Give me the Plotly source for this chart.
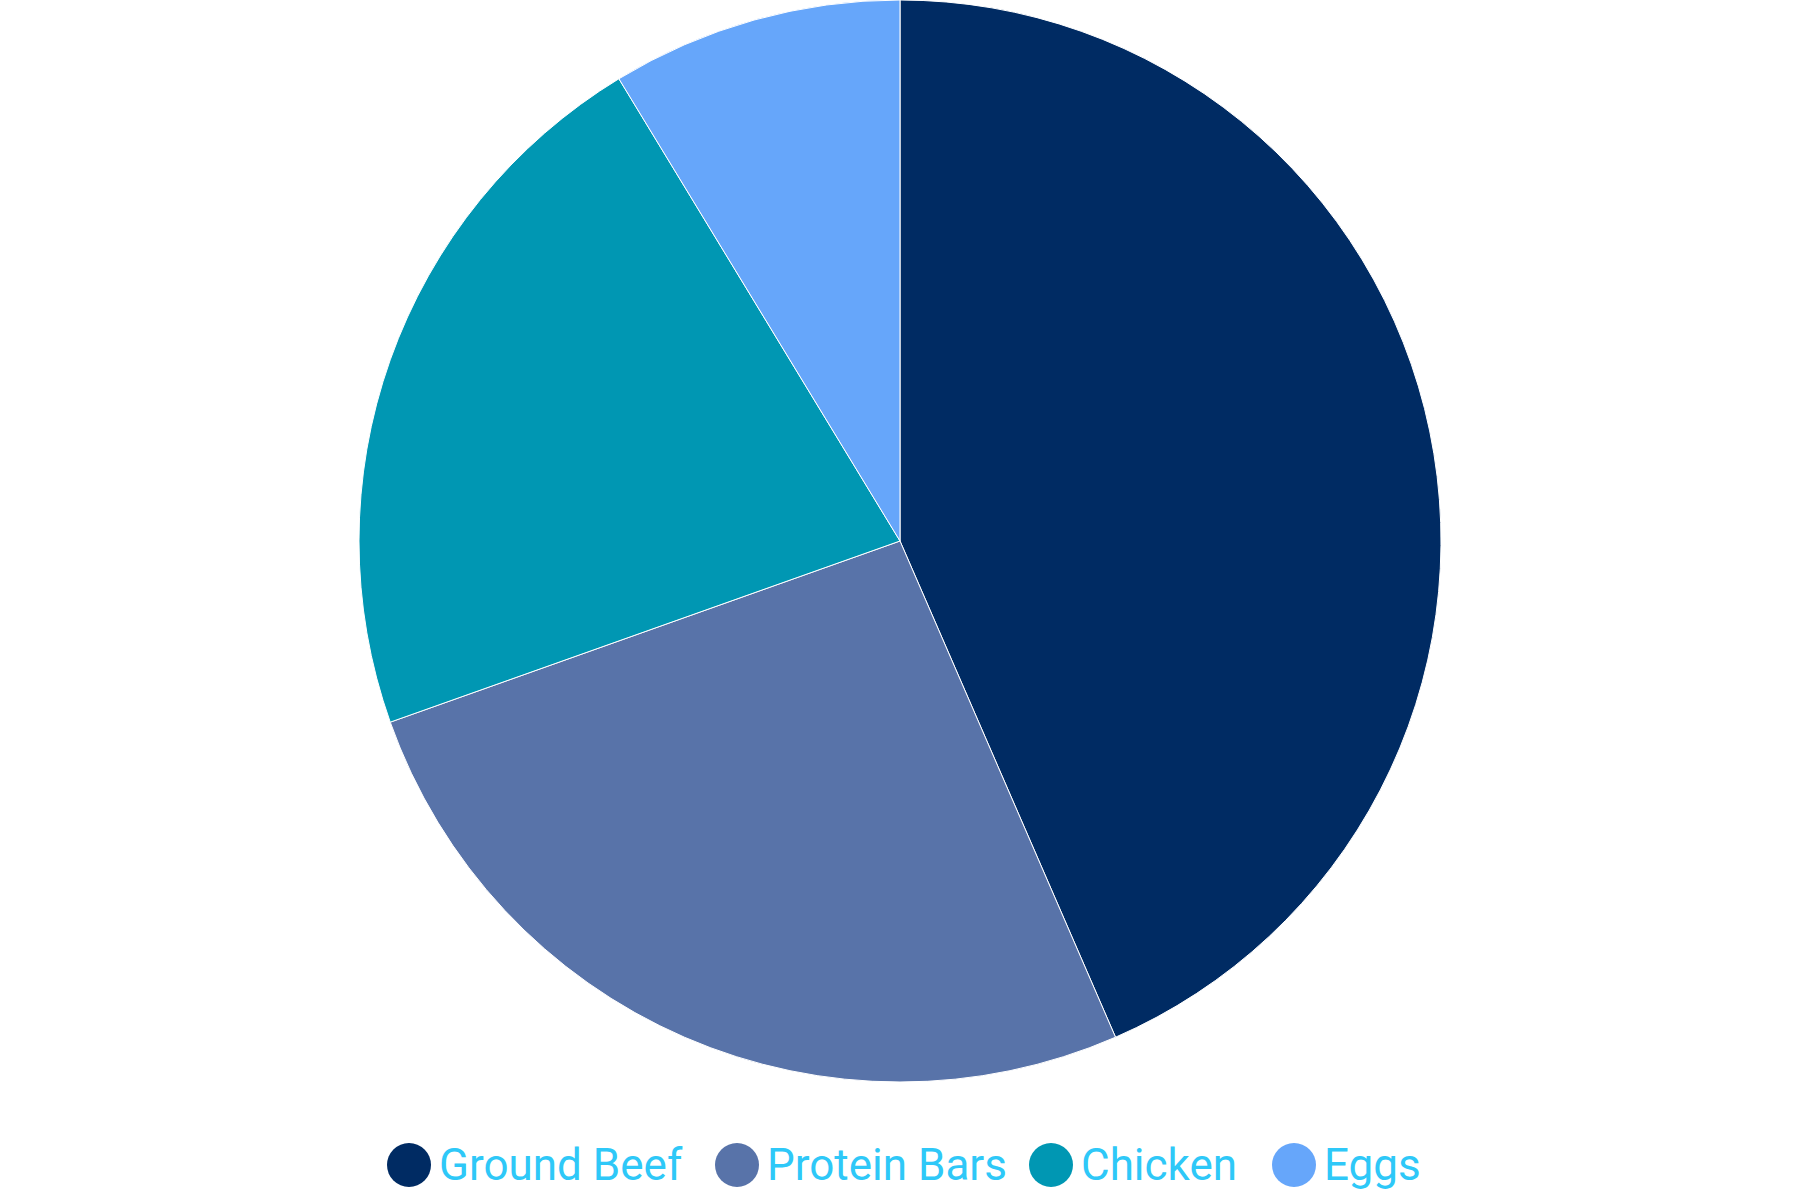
import plotly.graph_objects as go

labels = ["Ground Beef", "Protein Bars", "Chicken", "Eggs"]
values = [500, 300, 250, 100]
colors = ["#002b63", "#5873a9", "#0097b3", "#66a6fa"]

W, H = 1800, 1200

fig = go.Figure()
fig.add_trace(go.Pie(
    labels=labels, values=values, sort=False, direction="clockwise", rotation=0,
    marker=dict(colors=colors, line=dict(color="white", width=1)),
    textinfo="none", hoverinfo="label+value+percent",
    domain=dict(x=[0, 1], y=[1 - 1082 / H, 1]),
    showlegend=False,
))

# Legend drawn with circle markers and text labels
legend_x = [409, 737, 1051, 1294]
legend_y = 1165
r = 22
shapes = []
annotations = []
for lab, col, cx in zip(labels, colors, legend_x):
    shapes.append(dict(type="circle", xref="paper", yref="paper",
                       x0=(cx - r) / W, x1=(cx + r) / W,
                       y0=1 - (legend_y + r) / H, y1=1 - (legend_y - r) / H,
                       fillcolor=col, line=dict(width=0)))
    annotations.append(dict(text=lab, xref="paper", yref="paper",
                            x=(cx + r + 6) / W, y=1 - legend_y / H,
                            xanchor="left", yanchor="middle", showarrow=False,
                            font=dict(family="Roboto", size=44, color="#2ec8f8")))

fig.update_layout(
    width=W, height=H,
    margin=dict(l=0, r=0, t=0, b=0),
    paper_bgcolor="white", plot_bgcolor="white",
    shapes=shapes, annotations=annotations,
)

fig.write_html("out.html", config={"displayModeBar": False},
               post_script="document.body.style.margin='0';")
